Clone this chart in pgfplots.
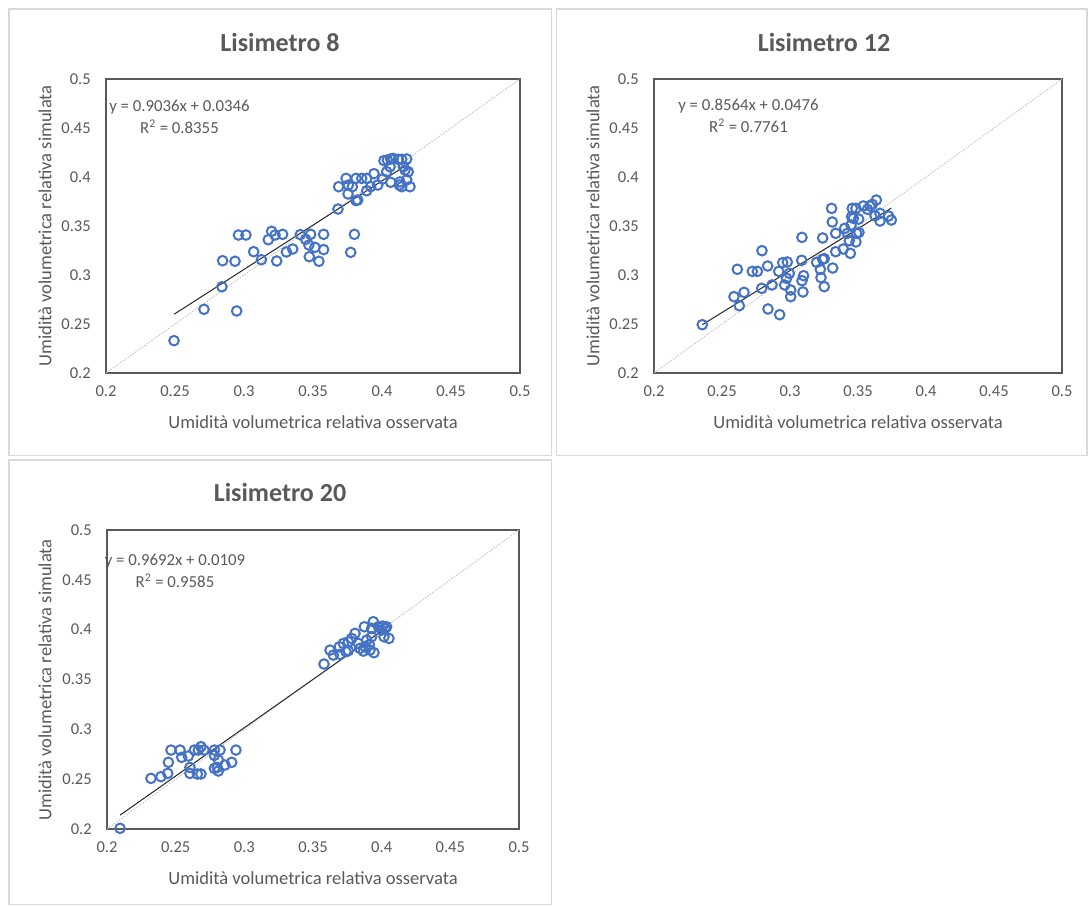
\documentclass[border=0pt]{standalone}
\usepackage{fontspec}
\setmainfont{Carlito}
\usepackage{pgfplots}
\pgfplotsset{compat=1.18}
\definecolor{txtgray}{HTML}{595959}
\definecolor{axisgray}{HTML}{595959}
\definecolor{framegray}{HTML}{D9D9D9}
\definecolor{excelblue}{HTML}{4472C4}
\definecolor{onegray}{HTML}{BFBFBF}
\definecolor{regblack}{HTML}{262626}
\newcommand\ticksize{\fontsize{12.4}{14}\selectfont}
\newcommand\labsize{\fontsize{13.9}{16}\selectfont}
\newcommand\titsize{\fontsize{19.5}{22}\selectfont}
\newcommand\eqsize{\fontsize{12.6}{16.5}\selectfont}
\pgfplotsset{
  lisim/.style={
    scale only axis, clip=false,
    xmin=0.2, xmax=0.5, ymin=0.2, ymax=0.5,
    xtick={0.2,0.25,0.3,0.35,0.4,0.45,0.5},
    xticklabels={0.2,0.25,0.3,0.35,0.4,0.45,0.5},
    ytick={0.2,0.25,0.3,0.35,0.4,0.45,0.5},
    yticklabels={0.2,0.25,0.3,0.35,0.4,0.45,0.5},
    major tick length=0pt,
    axis line style={draw=axisgray, line width=0.9pt},
    tick label style={font=\ticksize, text=txtgray},
    xticklabel style={yshift=-6.4pt},
    yticklabel style={xshift=-7.9pt},
    anchor=south west,
  },
  pts/.style={only marks, mark=o, mark size=3.6pt, draw=excelblue, line width=1.5pt},
  oneone/.style={onegray, line width=0.6pt, dash pattern=on 1.2pt off 1pt},
  reg/.style={regblack, line width=0.75pt},
}
\begin{document}
\begin{tikzpicture}
\begin{scope}[x=0.75pt, y=-0.75pt]
  \path (0,0) rectangle (1090,905);
  \draw[framegray, line width=0.9pt] (9,9) rectangle (551.5,455.5);
  \draw[framegray, line width=0.9pt] (556.5,9) rectangle (1087,455.5);
  \draw[framegray, line width=0.9pt] (9,460) rectangle (551.5,904.5);
  % titles
  \node[font=\titsize\bfseries, text=txtgray] at (280,42) {Lisimetro 8};
  \node[font=\titsize\bfseries, text=txtgray] at (824,42) {Lisimetro 12};
  \node[font=\titsize\bfseries, text=txtgray] at (280,492) {Lisimetro 20};
  % axis labels
  \node[font=\labsize, text=txtgray] at (313,422) {Umidità volumetrica relativa osservata};
  \node[font=\labsize, text=txtgray] at (858,422) {Umidità volumetrica relativa osservata};
  \node[font=\labsize, text=txtgray] at (313,878) {Umidità volumetrica relativa osservata};
  \node[font=\labsize, text=txtgray, rotate=90] at (45,226) {Umidità volumetrica relativa simulata};
  \node[font=\labsize, text=txtgray, rotate=90] at (593,226) {Umidità volumetrica relativa simulata};
  \node[font=\labsize, text=txtgray, rotate=90] at (45,680) {Umidità volumetrica relativa simulata};
  % equations
  \node[font=\eqsize, text=txtgray, align=center] at (179.5,117) {y = 0.9036x + 0.0346\\R\textsuperscript{2} = 0.8355};
  \node[font=\eqsize, text=txtgray, align=center] at (748.5,116) {y = 0.8564x + 0.0476\\R\textsuperscript{2} = 0.7761};
  \node[font=\eqsize, text=txtgray, align=center] at (175,570.5) {y = 0.9692x + 0.0109\\R\textsuperscript{2} = 0.9585};
\end{scope}

% Lisimetro 8
\begin{axis}[lisim, at={(79.5pt,-279.75pt)}, width=310.5pt, height=220.5pt]
\addplot[oneone] coordinates {(0.2,0.2) (0.5,0.5)};
\addplot[pts] coordinates {
(0.2493,0.2330) (0.2710,0.2650) (0.2947,0.2633) (0.2840,0.2880) (0.2845,0.3146)
(0.2935,0.3140) (0.2960,0.3408) (0.3014,0.3408) (0.3070,0.3238) (0.3126,0.3156)
(0.3200,0.3446) (0.3176,0.3360) (0.3225,0.3408) (0.3280,0.3415) (0.3237,0.3143)
(0.3307,0.3235) (0.3353,0.3265) (0.3408,0.3412) (0.3447,0.3364) (0.3483,0.3415)
(0.3470,0.3306) (0.3514,0.3282) (0.3473,0.3187) (0.3543,0.3140) (0.3577,0.3415)
(0.3577,0.3259) (0.3773,0.3231) (0.3800,0.3415) (0.3681,0.3673) (0.3686,0.3901)
(0.3740,0.3986) (0.3756,0.3918) (0.3754,0.3827) (0.3785,0.3901) (0.3812,0.3759)
(0.3824,0.3765) (0.3812,0.3986) (0.3853,0.3986) (0.3889,0.3986) (0.3889,0.3860)
(0.3942,0.4034) (0.3918,0.3901) (0.3969,0.3918) (0.4005,0.3980) (0.4014,0.4167)
(0.4039,0.4173) (0.4063,0.4184) (0.4082,0.4190) (0.4118,0.4180) (0.4143,0.4180)
(0.4179,0.4184) (0.4034,0.4054) (0.4058,0.4105) (0.4063,0.3946) (0.4126,0.3918)
(0.4143,0.3901) (0.4167,0.4071) (0.4190,0.4054) (0.4179,0.3970) (0.4203,0.3901)
(0.4155,0.4105) (0.4130,0.3950)
};
\addplot[reg] coordinates {(0.2493,0.2599) (0.4203,0.4144)};
\end{axis}

% Lisimetro 12
\begin{axis}[lisim, at={(490.5pt,-279.75pt)}, width=306pt, height=220.5pt]
\addplot[oneone] coordinates {(0.2,0.2) (0.5,0.5)};
\addplot[pts] coordinates {
(0.2355,0.2493) (0.2627,0.2687) (0.2588,0.2779) (0.2662,0.2823) (0.2613,0.3058)
(0.2723,0.3037) (0.2760,0.3037) (0.2794,0.3248) (0.2836,0.3092) (0.2792,0.2864)
(0.2838,0.2653) (0.2924,0.2595) (0.2868,0.2898) (0.2917,0.3037) (0.2946,0.3126)
(0.2980,0.3133) (0.2995,0.3017) (0.2975,0.2966) (0.2961,0.2898) (0.3005,0.2847)
(0.3005,0.2779) (0.3086,0.3150) (0.3088,0.3384) (0.3100,0.2993) (0.3088,0.2942)
(0.3095,0.2827) (0.3196,0.3129) (0.3223,0.3058) (0.3228,0.2973) (0.3252,0.2881)
(0.3240,0.3160) (0.3252,0.3167) (0.3240,0.3378) (0.3314,0.3071) (0.3306,0.3680)
(0.3311,0.3541) (0.3336,0.3425) (0.3336,0.3238) (0.3392,0.3265) (0.3402,0.3476)
(0.3422,0.3425) (0.3444,0.3221) (0.3436,0.3350) (0.3449,0.3510) (0.3453,0.3595)
(0.3458,0.3680) (0.3485,0.3680) (0.3466,0.3578) (0.3505,0.3571) (0.3485,0.3337)
(0.3490,0.3425) (0.3507,0.3435) (0.3539,0.3704) (0.3588,0.3704) (0.3605,0.3721)
(0.3635,0.3765) (0.3625,0.3605) (0.3662,0.3629) (0.3662,0.3551) (0.3725,0.3602)
(0.3745,0.3561) (0.3570,0.3670)
};
\addplot[reg] coordinates {(0.2355,0.2493) (0.3745,0.3683)};
\end{axis}

% Lisimetro 20
\begin{axis}[lisim, at={(80.25pt,-621.75pt)}, width=309pt, height=224.25pt]
\addplot[oneone] coordinates {(0.2,0.2) (0.5,0.5)};
\addplot[pts] coordinates {
(0.2095,0.2007) (0.2320,0.2508) (0.2393,0.2525) (0.2442,0.2558) (0.2447,0.2669)
(0.2466,0.2792) (0.2532,0.2792) (0.2544,0.2719) (0.2592,0.2732) (0.2604,0.2618)
(0.2604,0.2558) (0.2636,0.2792) (0.2665,0.2792) (0.2684,0.2826) (0.2706,0.2792)
(0.2658,0.2552) (0.2684,0.2552) (0.2782,0.2792) (0.2823,0.2792) (0.2782,0.2739)
(0.2811,0.2692) (0.2782,0.2608) (0.2803,0.2618) (0.2811,0.2582) (0.2859,0.2642)
(0.2908,0.2669) (0.2939,0.2792) (0.3580,0.3655) (0.3624,0.3795) (0.3648,0.3745)
(0.3692,0.3829) (0.3697,0.3752) (0.3721,0.3862) (0.3740,0.3779) (0.3757,0.3879)
(0.3757,0.3789) (0.3782,0.3912) (0.3806,0.3963) (0.3830,0.3862) (0.3842,0.3812)
(0.3867,0.3785) (0.3874,0.4029) (0.3879,0.3829) (0.3891,0.3896) (0.3915,0.3795)
(0.3927,0.3929) (0.3939,0.4080) (0.3944,0.3769) (0.3927,0.4013) (0.3976,0.4029)
(0.4007,0.4036) (0.4024,0.4013) (0.4017,0.3929) (0.4053,0.3912) (0.4036,0.4029)
(0.4000,0.3996) (0.3910,0.3850)
};
\addplot[reg] coordinates {(0.2095,0.2139) (0.4053,0.4037)};
\end{axis}
\end{tikzpicture}
\end{document}
